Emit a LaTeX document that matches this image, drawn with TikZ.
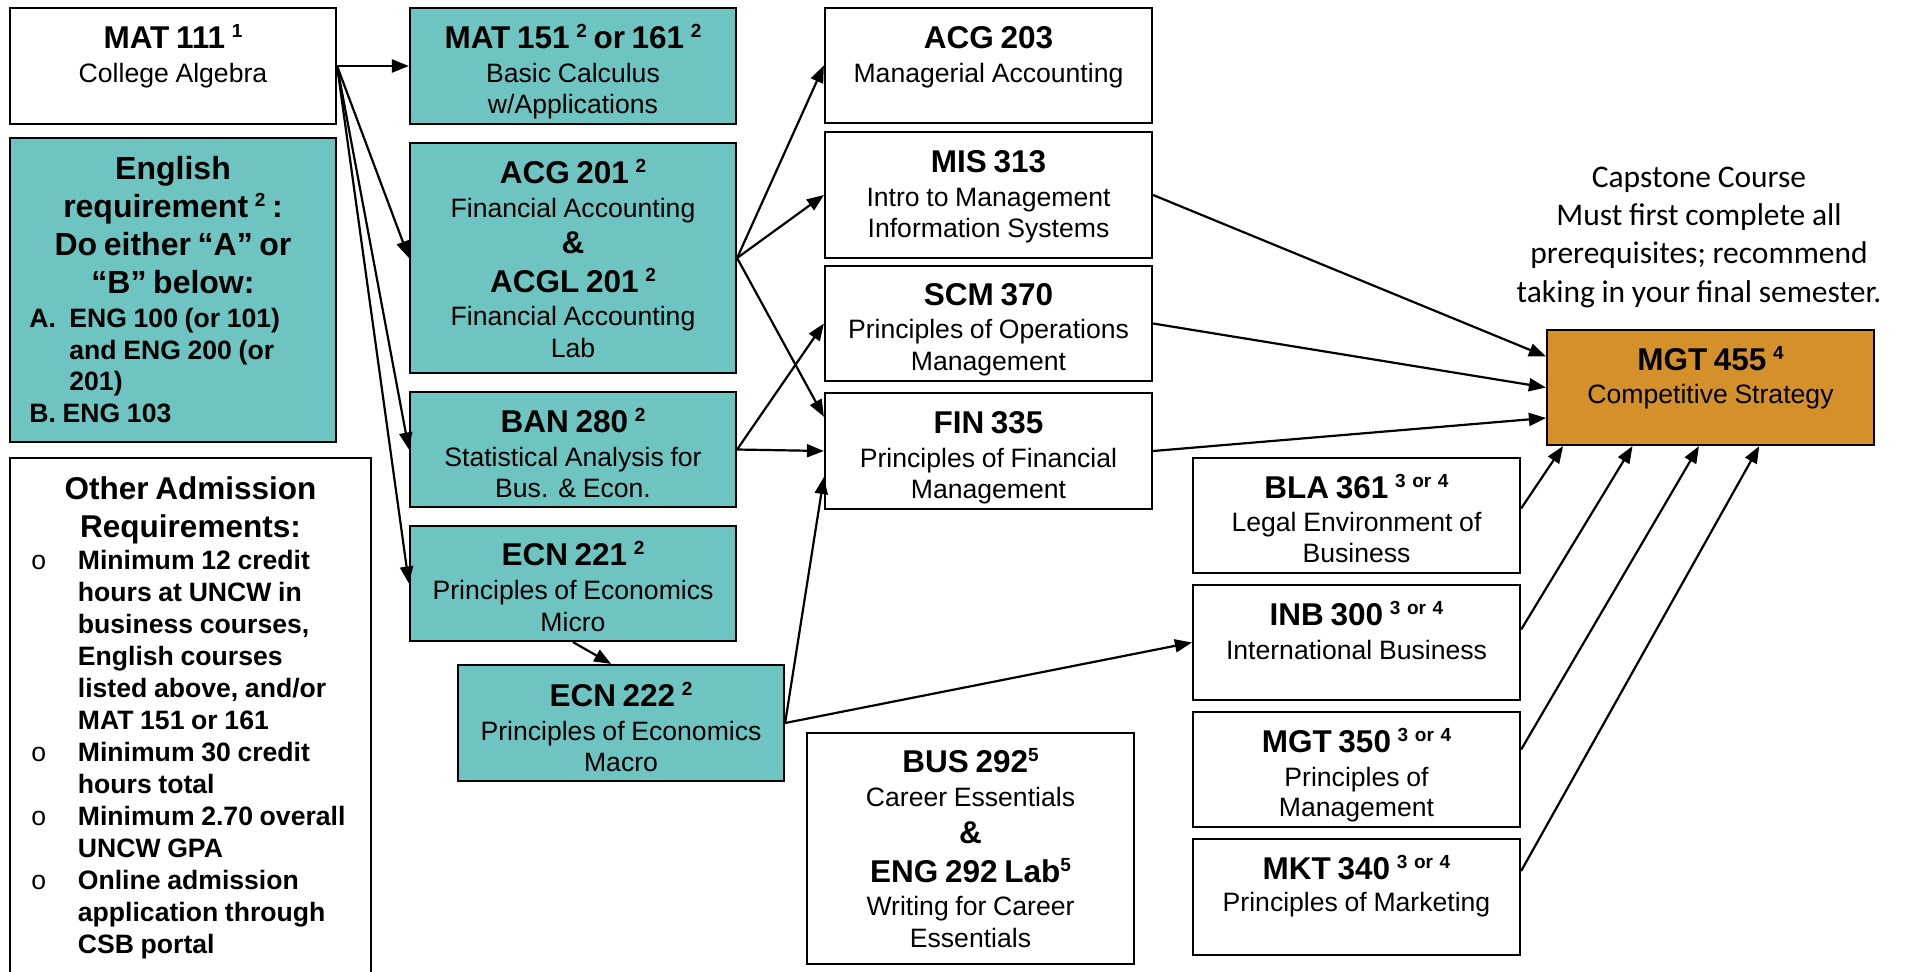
\documentclass[tikz,border=0pt]{standalone}
\usepackage{fontspec}
\setmainfont{Liberation Sans}
\newfontfamily\capf{Carlito}
\usetikzlibrary{arrows.meta,fit,calc}
\setlength{\parskip}{0pt}
\setlength{\parindent}{0pt}
\lineskiplimit=-100pt
\definecolor{tealbox}{RGB}{110,196,192}
\definecolor{orangebox}{RGB}{212,145,43}
\newcommand\st{\rule{0pt}{14pt}}
\newcommand\sps[1]{\raisebox{5.5pt}{\fontsize{9.5pt}{10pt}\selectfont\bfseries #1}}
\newcommand\Tl[2]{{\centering\fontsize{15.75pt}{#1pt}\selectfont\bfseries #2\par}}
\newcommand\Rl[2]{{\centering\fontsize{13.3pt}{#1pt}\selectfont #2\par}}
\tikzset{
  box/.style={draw, line width=1.1pt, inner sep=0pt},
  tbox/.style={box, fill=tealbox},
  obox/.style={box, fill=orangebox},
  txt/.style={anchor=north, inner sep=0pt, text width=165pt},
  arr/.style={line width=1.1pt, -{Triangle[length=8.5pt,width=6.5pt]}},
}
\begin{document}
\begin{tikzpicture}[x=0.5pt,y=-0.5pt]
\useasboundingbox (0,0) rectangle (1906,971);

% ---- boxes ----
\node[box,  fit={(10,8)(336,124)}]    (mat111) {};
\node[tbox, fit={(410,8)(736,124)}]   (mat151) {};
\node[tbox, fit={(10,138)(336,442)}]  (eng) {};
\node[tbox, fit={(410,143)(736,373)}] (acg201) {};
\node[tbox, fit={(410,392)(736,507)}] (ban280) {};
\node[tbox, fit={(410,526)(736,641)}] (ecn221) {};
\node[tbox, fit={(458,665)(784,781)}] (ecn222) {};
\node[box,  fit={(10,458)(371,990)}]  (oth) {};
\node[box,  fit={(825,8)(1152,123)}]   (acg203) {};
\node[box,  fit={(825,132)(1152,258)}] (mis313) {};
\node[box,  fit={(825,266)(1152,381)}] (scm370) {};
\node[box,  fit={(825,393)(1152,509)}] (fin335) {};
\node[box,  fit={(1193,458)(1520,573)}] (bla361) {};
\node[box,  fit={(1193,585)(1520,700)}] (inb300) {};
\node[box,  fit={(1193,712)(1520,827)}] (mgt350) {};
\node[box,  fit={(1193,839)(1520,955)}] (mkt340) {};
\node[box,  fit={(807,733)(1134,964)}]  (bus292) {};
\node[obox, fit={(1547,330)(1874,445)}] (mgt455) {};

% ---- texts ----
\node[txt] (mat111t) at (173,20.3) {\Tl{0}{\st MAT 111 \sps{1}}\Rl{16.7}{College Algebra}};
\node[txt] (mat151t) at (573,20) {\Tl{0}{\st MAT 151 \sps{2} or 161 \sps{2}}\Rl{17}{Basic Calculus}\Rl{15.5}{w/Applications}};
\node[txt] (engt) at (173,151) {\fontsize{16pt}{19pt}\selectfont\bfseries\centering\st English\\requirement \sps{2} :\\Do either “A” or\\“B” below:\par};
\node[anchor=north west, inner sep=0pt, text width=150pt] (engl) at (29,299) {\fontsize{13.3pt}{15.85pt}\selectfont\bfseries\rightskip=0pt plus 1fil
\hangindent=20pt\hangafter=1 \st\makebox[20pt][l]{A.}ENG 100 (or 101)\newline and ENG 200 (or\newline 201)\par
B. ENG 103\par};
\node[txt] (acg201t) at (573,154.7) {\Tl{0}{\st ACG 201 \sps{2}}\Rl{17}{Financial Accounting}\Tl{18.2}{\&}\Tl{19.3}{ACGL 201 \sps{2}}\Rl{16.7}{Financial Accounting}\Rl{15.85}{Lab}};
\node[txt] (ban280t) at (573,403.7) {\Tl{0}{\st BAN 280 \sps{2}}\Rl{17.3}{Statistical Analysis for}\Rl{15.6}{Bus. \& Econ.}};
\node[txt] (ecn221t) at (573,537.4) {\Tl{0}{\st ECN 221 \sps{2}}\Rl{17}{Principles of Economics}\Rl{16}{Micro}};
\node[txt] (ecn222t) at (621,678) {\Tl{0}{\st ECN 222 \sps{2}}\Rl{17}{Principles of Economics}\Rl{15.75}{Macro}};
\node[txt] (otht) at (190.5,471.3) {\fontsize{15.75pt}{18.65pt}\selectfont\bfseries\centering\st Other Admission\\Requirements:\par};
\node[anchor=north west, inner sep=0pt, text width=170pt] (othl) at (31,541.5) {\fontsize{13.3pt}{16pt}\selectfont\bfseries\rightskip=0pt plus 1fil
\hangindent=23.25pt\hangafter=1 \st\makebox[23.25pt][l]{\mdseries o}Minimum 12 credit\newline hours at UNCW in\newline business courses,\newline English courses\newline listed above, and/or\newline MAT 151 or 161\par
\hangindent=23.25pt\hangafter=1 \makebox[23.25pt][l]{\mdseries o}Minimum 30 credit\newline hours total\par
\hangindent=23.25pt\hangafter=1 \makebox[23.25pt][l]{\mdseries o}Minimum 2.70 overall\newline UNCW GPA\par
\hangindent=23.25pt\hangafter=1 \makebox[23.25pt][l]{\mdseries o}Online admission\newline application through\newline CSB portal\par};
\node[txt] (acg203t) at (988.5,20.3) {\Tl{0}{\st ACG 203}\Rl{16.7}{Managerial Accounting}};
\node[txt] (mis313t) at (988.5,143.7) {\Tl{0}{\st MIS 313}\Rl{17.3}{Intro to Management}\Rl{15.2}{Information Systems}};
\node[txt] (scm370t) at (988.5,277) {\Tl{0}{\st SCM 370}\Rl{16.7}{Principles of Operations}\Rl{15.85}{Management}};
\node[txt] (fin335t) at (988.5,404.7) {\Tl{0}{\st FIN 335}\Rl{17}{Principles of Financial}\Rl{15.8}{Management}};
\node[txt] (bla361t) at (1356.5,469.6) {\Tl{0}{\st BLA 361 \sps{3 or 4}}\Rl{16.6}{Legal Environment of}\Rl{15.6}{Business}};
\node[txt] (inb300t) at (1356.5,596.7) {\Tl{0}{\st INB 300 \sps{3 or 4}}\Rl{16.95}{International Business}};
\node[txt] (mgt350t) at (1356.5,723.9) {\Tl{0}{\st MGT 350 \sps{3 or 4}}\Rl{16.95}{Principles of}\Rl{15.3}{Management}};
\node[txt] (mkt340t) at (1356.5,851) {\Tl{0}{\st MKT 340 \sps{3 or 4}}\Rl{16}{Principles of Marketing}};
\node[txt] (bus292t) at (970.5,744) {\Tl{0}{\st BUS 292\sps{5}}\Rl{17}{Career Essentials}\Tl{18.5}{\&}\Tl{19.5}{ENG 292 Lab\sps{5}}\Rl{16.3}{Writing for Career}\Rl{16.1}{Essentials}};
\node[txt] (mgt455t) at (1710.5,342) {\Tl{0}{\st MGT 455 \sps{4}}\Rl{16.5}{Competitive Strategy}};
\node[txt, text width=200pt] (capst) at (1699,158.7) {\capf\fontsize{15.75pt}{19.15pt}\selectfont\centering\st Capstone Course\\Must first complete all\\prerequisites; recommend\\taking in your final semester.\par};

% ---- connectors ----
\draw[arr] (mat111.east) -- (mat151.west);
\draw[arr] (mat111.east) -- (acg201.west);
\draw[arr] (mat111.east) -- (ban280.west);
\draw[arr] (mat111.east) -- (ecn221.west);
\draw[arr] (acg201.east) -- (acg203.west);
\draw[arr] (acg201.east) -- (mis313.west);
\draw[arr] (acg201.east) -- ($(fin335.north west)!0.21!(fin335.south west)$);
\draw[arr] (ban280.east) -- (scm370.west);
\draw[arr] (ban280.east) -- (fin335.west);
\draw[arr] (ecn222.east) -- ($(fin335.north west)!0.72!(fin335.south west)$);
\draw[arr] (ecn222.east) -- (inb300.west);
\draw[arr] (ecn221.south) -- ($(ecn222.north west)!0.47!(ecn222.north east)$);
\draw[arr] (mis313.east) -- ($(mgt455.north west)!0.235!(mgt455.south west)$);
\draw[arr] (scm370.east) -- (mgt455.west);
\draw[arr] (fin335.east) -- ($(mgt455.north west)!0.76!(mgt455.south west)$);
\draw[arr] ($(bla361.north east)!0.44!(bla361.south east)$) -- ($(mgt455.south west)!0.052!(mgt455.south east)$);
\draw[arr] ($(inb300.north east)!0.39!(inb300.south east)$) -- ($(mgt455.south west)!0.263!(mgt455.south east)$);
\draw[arr] ($(mgt350.north east)!0.33!(mgt350.south east)$) -- ($(mgt455.south west)!0.465!(mgt455.south east)$);
\draw[arr] ($(mkt340.north east)!0.28!(mkt340.south east)$) -- ($(mgt455.south west)!0.648!(mgt455.south east)$);
\end{tikzpicture}
\end{document}
